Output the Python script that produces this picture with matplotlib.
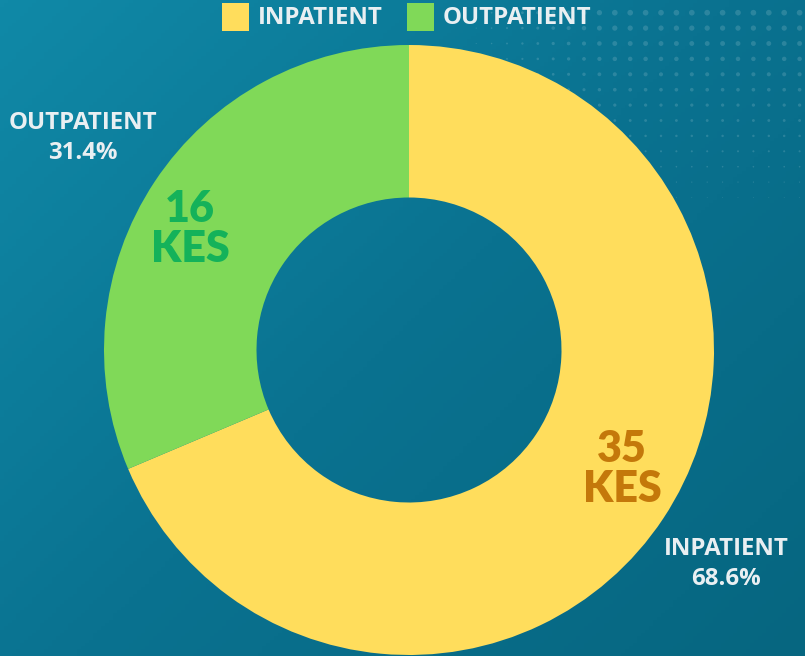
import numpy as np
import matplotlib.pyplot as plt
from matplotlib.patches import Rectangle
from matplotlib.colors import LinearSegmentedColormap

labels = ['INPATIENT', 'OUTPATIENT']
values = [35, 16]
units = 'KES'
colors = ['#ffdd5c', '#80d958']
value_colors = ['#c4780a', '#14b25a']

W, H = 805, 656
fig = plt.figure(figsize=(W / 100, H / 100), dpi=100)

# background gradient
bg = fig.add_axes([0, 0, 1, 1])
bg.set_axis_off()
yy, xx = np.mgrid[0:1:200j, 0:1:200j]
grad = (xx * 0.55 + yy * 0.45)
cmap = LinearSegmentedColormap.from_list('bg', ['#1089a7', '#0a7290', '#066680'])
bg.imshow(grad, cmap=cmap, extent=(0, W, 0, H), origin='upper', aspect='auto')
bg.set_xlim(0, W)
bg.set_ylim(0, H)

# dotted decoration, top right
gx = np.arange(0, 30) * 15.4 + 353
gy = np.arange(0, 14) * 15.4 + 12.7
GX, GY = np.meshgrid(gx, gy)
d = 6.0 * np.clip(1 - GY / 230, 0, 1) * np.clip((GX - 440) / 170, 0, 1)
m = d > 0.8
bg.scatter(GX[m], H - GY[m], s=(0.72 * d[m]) ** 2, color='white', alpha=0.14, linewidths=0)

ax = fig.add_axes([0, 0, 1, 1])
ax.set_axis_off()
cx, cy, r = 409, H - 350, 305
ax.pie(values, colors=colors, startangle=90, counterclock=False,
       center=(cx, cy), radius=r,
       wedgeprops=dict(width=r * 0.5, edgecolor='none'))
ax.set_xlim(0, W)
ax.set_ylim(0, H)
ax.set_aspect('auto')

total = sum(values)
pct = [v / total * 100 for v in values]

lab_font = dict(family='Open Sans', fontweight='bold', fontsize=17.3, color='#e9eff2',
                ha='center', va='center')
val_font = dict(family='Lato', fontweight='heavy', fontsize=31, ha='center', va='center',
                linespacing=1.02)

# outside labels
ax.text(726, H - 564, f'{labels[0]}\n{pct[0]:.1f}%', linespacing=1.3, **lab_font)
ax.text(83, H - 138, f'{labels[1]}\n{pct[1]:.1f}%', linespacing=1.3, **lab_font)

# values inside ring
ax.text(622, H - 469, f'{values[0]}\n{units}', color=value_colors[0], **val_font)
ax.text(190, H - 229, f'{values[1]}\n{units}', color=value_colors[1], **val_font)

# legend
lx = [222, 407]
for i in range(2):
    ax.add_patch(Rectangle((lx[i], H - 31), 27, 28, facecolor=colors[i], edgecolor='none'))
    ax.text(lx[i] + 36, H - 18, labels[i], family='Open Sans', fontweight='bold',
            fontsize=17.3, color='#e9eff2', ha='left', va='center')

fig.savefig('out.png', dpi=100)
